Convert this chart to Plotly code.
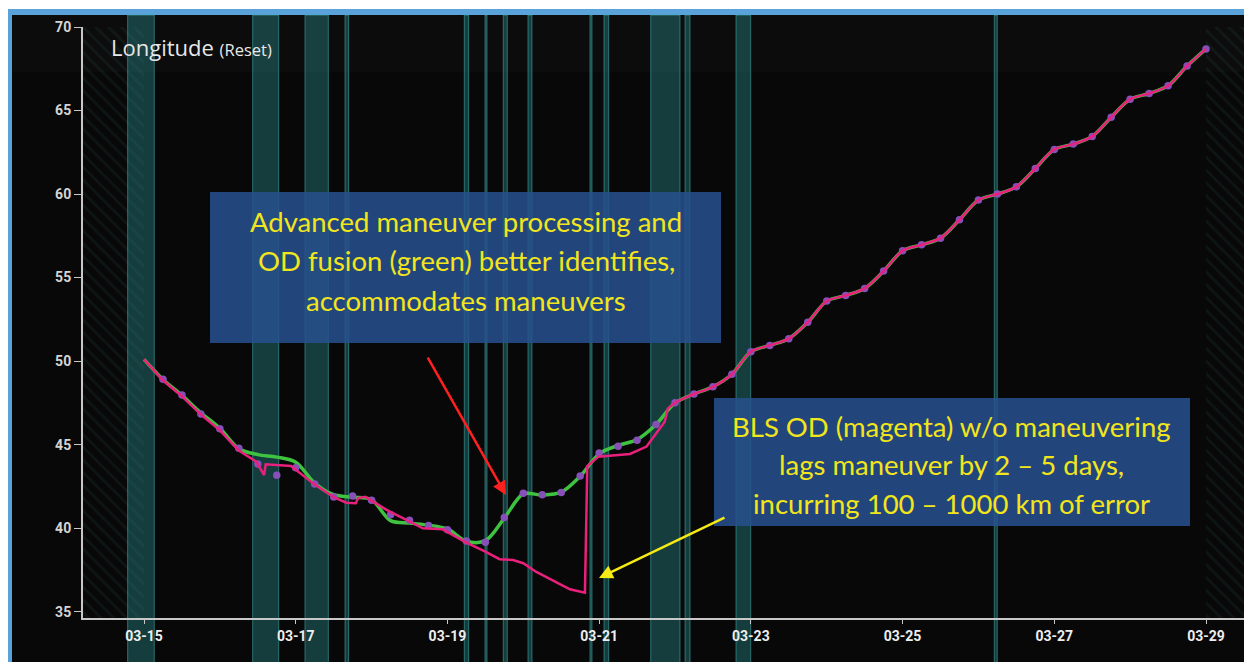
import pandas as pd
import plotly.graph_objects as go

# ---- data -------------------------------------------------------------
# observation epochs (purple dots), every 6 h from 03-15 06:00
obs_start = '2023-03-15 06:00'
obs_lon = [48.91, 47.97, 46.83, 45.95, 44.78, 43.84, 43.16, 43.62, 42.64, 41.86,
           41.92, 41.67, 40.80, 40.47, 40.16, 39.90, 39.23, 39.15, 40.63, 42.09,
           42.00, 42.14, 43.12, 44.50, 44.90, 45.26, 46.21, 47.51,
           48.03, 48.46, 49.21, 50.56, 50.94, 51.34, 52.32, 53.59, 53.93, 54.35,
           55.39, 56.60, 56.96, 57.36, 58.46, 59.64, 60.00, 60.43, 61.53, 62.67,
           62.99, 63.45, 64.60, 65.68, 66.02, 66.48, 67.66, 68.69]

# maneuver-aware OD fusion (green), every 6 h from 03-15 00:00
fused_start = '2023-03-15 00:00'
fused_lon = [50.10, 48.90, 47.95, 46.90, 45.98, 44.75, 44.40, 44.25, 43.95, 42.70,
             42.00, 41.85, 41.70, 40.45, 40.30, 40.18, 39.95, 39.22, 39.25, 40.60,
             42.05, 41.98, 42.15, 43.10, 44.45, 44.95, 45.30, 46.20, 47.50,
             48.03, 48.46, 49.21, 50.56, 50.94, 51.34, 52.32, 53.59, 53.93, 54.35,
             55.39, 56.60, 56.96, 57.36, 58.46, 59.64, 60.00, 60.43, 61.53, 62.67,
             62.99, 63.45, 64.60, 65.68, 66.02, 66.48, 67.66, 68.69]

# BLS OD without maneuvering (magenta)
bls_time = ['03-15 00:00', '03-15 06:00', '03-15 12:00', '03-15 18:00', '03-16 00:00',
            '03-16 06:00', '03-16 11:30', '03-16 14:00', '03-16 14:30', '03-16 22:30',
            '03-17 05:30', '03-17 12:00', '03-17 16:00', '03-17 19:00', '03-17 19:45',
            '03-17 22:00', '03-18 04:45', '03-18 12:00', '03-18 16:15', '03-18 22:30',
            '03-19 06:00', '03-19 12:00', '03-19 16:30', '03-19 20:45', '03-20 00:00',
            '03-20 04:00', '03-20 11:30', '03-20 14:45', '03-20 19:30', '03-20 20:15',
            '03-20 23:45', '03-21 09:45', '03-21 15:00', '03-21 20:45', '03-21 21:45',
            '03-22 00:30', '03-22 06:00', '03-22 12:00', '03-22 18:00', '03-23 00:00',
            '03-23 06:00', '03-23 12:00', '03-23 18:00', '03-24 00:00', '03-24 06:00',
            '03-24 12:00', '03-24 18:00', '03-25 00:00', '03-25 06:00', '03-25 12:00',
            '03-25 18:00', '03-26 00:00', '03-26 06:00', '03-26 12:00', '03-26 18:00',
            '03-27 00:00', '03-27 06:00', '03-27 12:00', '03-27 18:00', '03-28 00:00',
            '03-28 06:00', '03-28 12:00', '03-28 18:00', '03-29 00:00']
bls_lon = [50.10, 48.85, 47.90, 46.80, 45.85, 44.65, 43.98, 43.18, 43.82, 43.72,
           42.68, 41.86, 41.52, 41.49, 41.80, 41.87, 41.09, 40.40, 39.99, 39.93,
           39.13, 38.59, 38.14, 38.09, 37.90, 37.39, 36.66, 36.34, 36.14, 43.72,
           44.28, 44.44, 44.88, 46.37, 47.17, 47.57, 48.03, 48.46, 49.21, 50.56,
           50.94, 51.34, 52.32, 53.59, 53.93, 54.35, 55.39, 56.60, 56.96, 57.36,
           58.46, 59.64, 60.00, 60.43, 61.53, 62.67, 62.99, 63.45, 64.60, 65.68,
           66.02, 66.48, 67.66, 68.69]
bls_smooth_from = '03-22 00:30'   # BLS track is smooth again after this epoch

# maneuver windows (teal bands)
man_start = ['03-14 18:50', '03-16 10:23', '03-17 02:56', '03-17 15:36', '03-19 05:20',
             '03-19 11:53', '03-19 17:40', '03-20 01:29', '03-20 21:06', '03-21 01:32',
             '03-21 16:19', '03-22 03:10', '03-22 19:18', '03-26 05:01']
man_end = ['03-15 03:15', '03-16 18:37', '03-17 10:19', '03-17 16:45', '03-19 06:43',
           '03-19 12:31', '03-19 18:56', '03-20 02:45', '03-20 21:44', '03-21 03:01',
           '03-22 01:35', '03-22 04:45', '03-22 23:57', '03-26 05:57']

note_fusion = ['Advanced maneuver processing and',
               'OD fusion (green) better identifies,',
               'accommodates maneuvers']
note_bls = ['BLS OD (magenta) w/o maneuvering',
            'lags maneuver by 2 \u2013 5 days,',
            'incurring 100 \u2013 1000 km of error']

X_RANGE = ['2023-03-14 04:42', '2023-03-29 14:33']
Y_RANGE = [34.62, 70]

# ---- layout helpers ---------------------------------------------------
# page body keeps an 8px margin, so the figure is drawn 8px smaller and
# positions below are given in window pixels
OFF = 8
W, H = 1252 - OFF, 662 - OFF
ML, MR, MT, MB = 83 - OFF, 0, 27 - OFF, 44
PW, PH = W - ML - MR, H - MT - MB


def px(x):
    return (x - OFF - ML) / PW


def py(y):
    return (H + OFF - MB - y) / PH


def ts(s):
    return pd.Timestamp('2023-' + s)


obs_t = pd.date_range(obs_start, periods=len(obs_lon), freq='6h')
fused_t = pd.date_range(fused_start, periods=len(fused_lon), freq='6h')
bls_t = [ts(s) for s in bls_time]
k = bls_time.index(bls_smooth_from)

fig = go.Figure()

# hatched region outside the data span
x_lo, x_hi = pd.Timestamp(X_RANGE[0]), pd.Timestamp(X_RANGE[1])
for a, b in [(x_lo, fused_t[0]), (fused_t[-1], x_hi)]:
    fig.add_trace(go.Scatter(
        x=[a, b, b, a, a], y=[Y_RANGE[0], Y_RANGE[0], Y_RANGE[1], Y_RANGE[1], Y_RANGE[0]],
        mode='lines', fill='toself', line=dict(width=0),
        fillpattern=dict(shape='\\', fgcolor='rgba(60,120,125,0.22)',
                         bgcolor='rgba(0,0,0,0)', size=9, solidity=0.3),
        hoverinfo='skip', showlegend=False))

fig.add_trace(go.Scatter(x=fused_t, y=fused_lon, mode='lines', name='OD fusion',
                         line=dict(color='#3fc23f', width=3.5, shape='spline', smoothing=0.9)))
fig.add_trace(go.Scatter(x=obs_t, y=obs_lon, mode='markers', name='Obs',
                         marker=dict(color='#8650b8', size=7.5)))
fig.add_trace(go.Scatter(x=bls_t[:k + 1], y=bls_lon[:k + 1], mode='lines', name='BLS OD',
                         line=dict(color='#e9207c', width=2.5)))
fig.add_trace(go.Scatter(x=bls_t[k:], y=bls_lon[k:], mode='lines', name='BLS OD',
                         line=dict(color='#e9207c', width=2.5, shape='spline', smoothing=0.9)))

shapes = [
    dict(type='rect', xref='paper', yref='paper', x0=px(7), x1=1.01, y0=py(H + 20), y1=py(9),
         fillcolor='#5aa3da', line_width=0, layer='below'),
    dict(type='rect', xref='paper', yref='paper', x0=px(12), x1=1.01, y0=py(H + 20), y1=py(15),
         fillcolor='#080808', line_width=0, layer='below'),
    dict(type='rect', xref='paper', yref='paper', x0=px(12), x1=1.01, y0=py(72), y1=py(15),
         fillcolor='#0c0c0c', line_width=0, layer='below'),
]
for s, e in zip(man_start, man_end):
    shapes.append(dict(type='rect', xref='x', yref='paper', x0=ts(s), x1=ts(e),
                       y0=py(H + 20), y1=py(15),
                       fillcolor='rgba(45,150,150,0.38)',
                       line=dict(color='rgba(70,175,175,0.55)', width=1), layer='below'))

# note boxes
shapes.append(dict(type='rect', xref='paper', yref='paper', x0=px(210), x1=px(721),
                   y0=py(343), y1=py(192), fillcolor='rgba(38,80,142,0.86)',
                   line_width=0, layer='above'))
shapes.append(dict(type='rect', xref='paper', yref='paper', x0=px(714), x1=px(1190),
                   y0=py(526), y1=py(398), fillcolor='rgba(38,80,142,0.86)',
                   line_width=0, layer='above'))

annotations = [
    dict(xref='paper', yref='paper', x=px(109), y=py(47), xanchor='left', yanchor='middle',
         showarrow=False,
         text="Longitude <span style='font-size:16.5px'>(Reset)</span>",
         font=dict(family='Open Sans', size=22, color='#e8e8e8')),
]
for i, line in enumerate(note_fusion):
    annotations.append(dict(xref='paper', yref='paper', x=px(466), y=py(221 + 39.5 * i),
                            xanchor='center', yanchor='middle', showarrow=False, text=line,
                            font=dict(family='Lato', size=27.5, color='#f2e51c')))
for i, line in enumerate(note_bls):
    annotations.append(dict(xref='paper', yref='paper', x=px(951), y=py(426 + 38.5 * i),
                            xanchor='center', yanchor='middle', showarrow=False, text=line,
                            font=dict(family='Lato', size=27.5, color='#f2e51c')))

# arrows
annotations.append(dict(x=ts('03-19 18:30'), y=41.98, xref='x', yref='y', text='',
                        showarrow=True, arrowhead=2, arrowsize=1.1, arrowwidth=2.5,
                        arrowcolor='#ff2020', ax=-79, ay=-139, standoff=0))
annotations.append(dict(x=ts('03-20 23:57'), y=37.02, xref='x', yref='y', text='',
                        showarrow=True, arrowhead=2, arrowsize=1.1, arrowwidth=2.5,
                        arrowcolor='#f5ea14', ax=127, ay=-61, standoff=0))

xfont = dict(family='Liberation Sans Narrow, Roboto, sans-serif', size=14,
             color='#eeeeee', weight='bold')
yfont = dict(family='Liberation Sans Narrow, Roboto, sans-serif', size=14,
             color='#d4d4d4', weight='bold')

fig.update_layout(
    width=W, height=H,
    margin=dict(l=ML, r=MR, t=MT, b=MB),
    paper_bgcolor='white',
    plot_bgcolor='rgba(0,0,0,0)',
    showlegend=False,
    shapes=shapes,
    annotations=annotations,
    xaxis=dict(type='date', range=X_RANGE, tickformat='%m-%d', tick0='2023-03-15',
               dtick=2 * 86400000, showgrid=False, zeroline=False, showline=True,
               linecolor='#c8c8c8', linewidth=2, ticks='outside', ticklen=4,
               tickcolor='#c8c8c8', tickfont=xfont),
    yaxis=dict(range=Y_RANGE, tick0=35, dtick=5, showgrid=False, zeroline=False,
               showline=True, linecolor='#c8c8c8', linewidth=2, ticks='outside',
               ticklen=7, tickcolor='#c8c8c8', tickfont=yfont),
)

fig.write_html('out.html')
